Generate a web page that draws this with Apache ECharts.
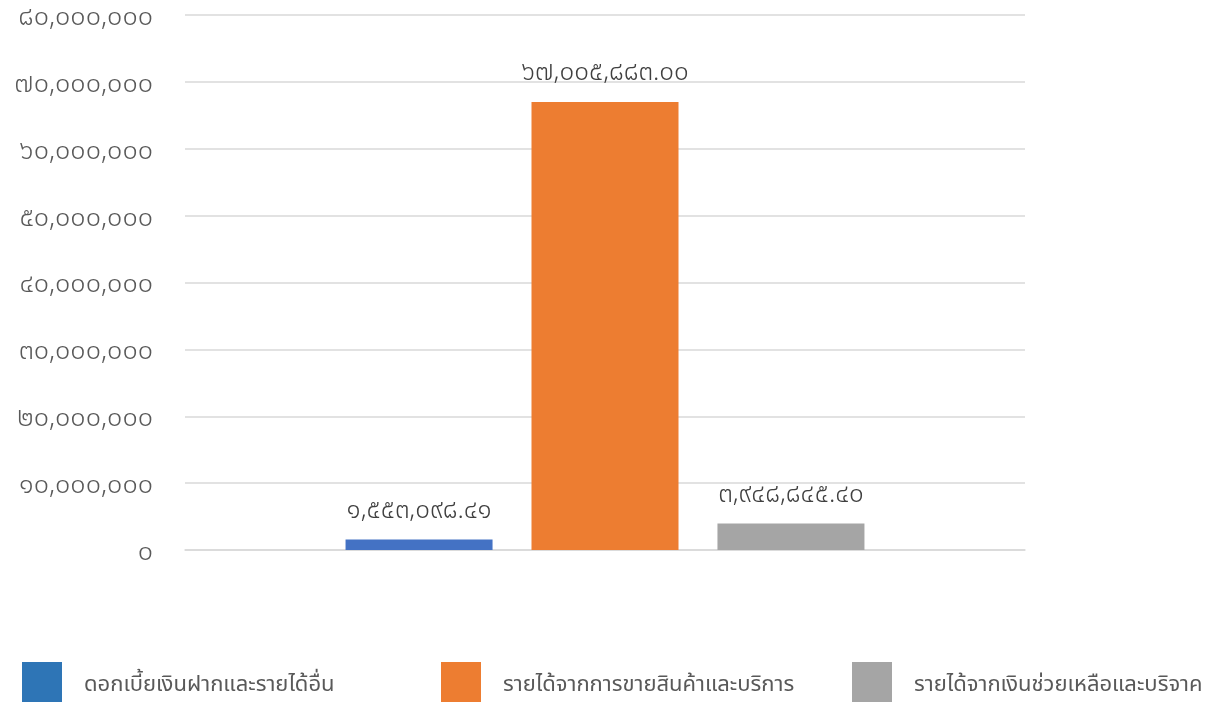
<!DOCTYPE html>
<html><head><meta charset="utf-8">
<script src="https://cdn.jsdelivr.net/npm/echarts@6/dist/echarts.min.js"></script>
<style>html,body{margin:0;padding:0;background:#fff}#c{width:1218px;height:702px}</style>
</head><body><div id="c"></div>
<script>
const categories = [''];
const seriesNames = ['ดอกเบี้ยเงินฝากและรายได้อื่น', 'รายได้จากการขายสินค้าและบริการ', 'รายได้จากเงินช่วยเหลือและบริจาค'];
const seriesValues = [1553098.41, 67005883.00, 3948845.40];
const valueLabels = ['๑,๕๕๓,๐๙๘.๔๑', '๖๗,๐๐๕,๘๘๓.๐๐', '๓,๙๔๘,๘๔๕.๔๐'];
const yTickLabels = ['๐', '๑๐,๐๐๐,๐๐๐', '๒๐,๐๐๐,๐๐๐', '๓๐,๐๐๐,๐๐๐', '๔๐,๐๐๐,๐๐๐', '๕๐,๐๐๐,๐๐๐', '๖๐,๐๐๐,๐๐๐', '๗๐,๐๐๐,๐๐๐', '๘๐,๐๐๐,๐๐๐'];
const barColors = ['#4472C4', '#ED7D31', '#A5A5A5'];
const legendColors = ['#2E75B6', '#ED7D31', '#A5A5A5'];

const FONT = '"Noto Sans Thai", Tahoma, "DejaVu Sans", sans-serif';
const chart = echarts.init(document.getElementById('c'));
const legendLefts = [22, 441, 852];
chart.setOption({
  animation: false,
  backgroundColor: '#fff',
  textStyle: { fontFamily: FONT },
  grid: { left: 185, right: 193, top: 15, bottom: 152 },
  legend: seriesNames.map((n, i) => ({
    left: legendLefts[i], top: 662, padding: 0,
    itemWidth: 40, itemHeight: 40, itemGap: 22,
    icon: 'rect',
    data: [{ name: n, itemStyle: { color: legendColors[i] } }],
    formatter: name => '{t|' + name + '}',
    textStyle: {
      fontSize: 22, color: '#595959', fontFamily: FONT,
      rich: { t: { fontSize: 22, color: '#595959', fontFamily: FONT, padding: [10, 0, 0, 17] } }
    }
  })),
  xAxis: {
    type: 'category', data: categories,
    axisLine: { lineStyle: { color: '#D9D9D9', width: 1.5 } },
    axisTick: { show: false }, axisLabel: { show: false }
  },
  yAxis: {
    type: 'value', min: 0, max: 80000000, interval: 10000000,
    axisLine: { show: false }, axisTick: { show: false },
    splitLine: { lineStyle: { color: '#D9D9D9', width: 1.5 } },
    axisLabel: {
      margin: 32, color: '#595959', fontFamily: FONT,
      formatter: v => '{y|' + yTickLabels[Math.round(v / 10000000)] + '}',
      rich: { y: { fontSize: 27, fontWeight: 300, color: '#595959', fontFamily: FONT, padding: [9, 0, 0, 0] } }
    }
  },
  series: seriesNames.map((n, i) => ({
    name: n, type: 'bar',
    barWidth: 147, barGap: '26.5%',
    itemStyle: { color: barColors[i] },
    data: [seriesValues[i]],
    label: {
      show: true, position: 'top', distance: 14,
      fontSize: 26, fontWeight: 300, color: '#404040', fontFamily: FONT,
      formatter: () => valueLabels[i]
    }
  }))
});
</script></body></html>
